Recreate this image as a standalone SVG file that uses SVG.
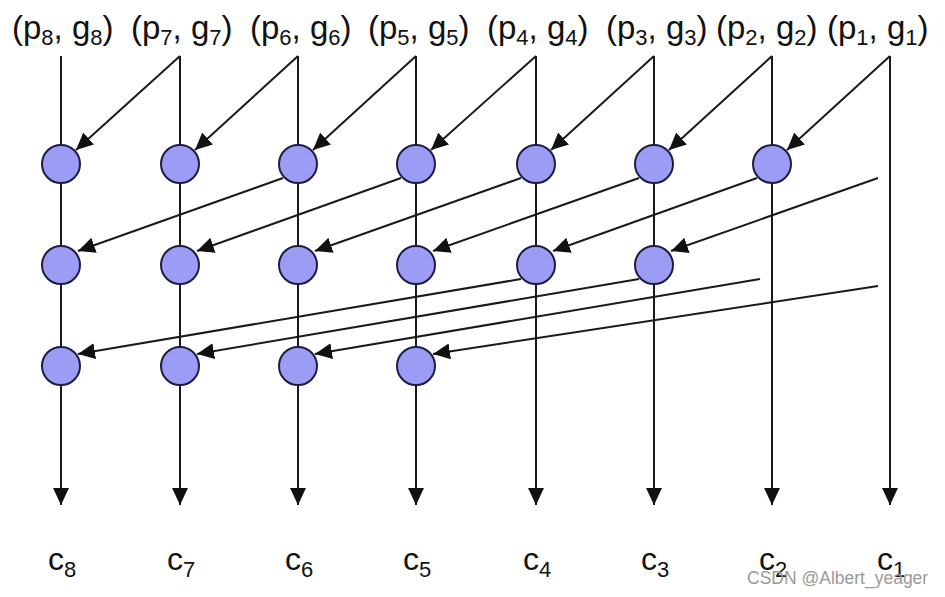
<svg xmlns="http://www.w3.org/2000/svg" width="945" height="597" viewBox="0 0 945 597">
<defs>
<marker id="ah" markerUnits="userSpaceOnUse" markerWidth="18" markerHeight="16" refX="17" refY="8" orient="auto">
<path d="M0,0 L17,8 L0,16 z" fill="#111"/>
</marker>
<style>
.ln{stroke:#1a1a1a;stroke-width:2;fill:none}
.ar{marker-end:url(#ah)}
.nd{fill:#9c9cf4;stroke:#1c1c44;stroke-width:2}
.lb{font-family:"Liberation Sans",Arial,sans-serif;font-size:33px;fill:#111}
.ob{font-size:32px}
.sb{font-size:22px}
.wm{font-family:"Liberation Sans",Arial,sans-serif;font-size:17.5px;fill:#9a9a9a}
</style>
</defs>
<rect width="945" height="597" fill="#fff"/>
<g id="connectors">
<line class="ln ar" x1="61" y1="56" x2="61" y2="505"/>
<line class="ln ar" x1="180" y1="56" x2="180" y2="505"/>
<line class="ln ar" x1="298" y1="56" x2="298" y2="505"/>
<line class="ln ar" x1="416" y1="56" x2="416" y2="505"/>
<line class="ln ar" x1="536" y1="56" x2="536" y2="505"/>
<line class="ln ar" x1="654" y1="56" x2="654" y2="505"/>
<line class="ln ar" x1="772" y1="56" x2="772" y2="505"/>
<line class="ln ar" x1="890" y1="56" x2="890" y2="505"/>
<line class="ln ar" x1="180" y1="56" x2="76" y2="150"/>
<line class="ln ar" x1="298" y1="56" x2="195" y2="150"/>
<line class="ln ar" x1="416" y1="56" x2="313" y2="150"/>
<line class="ln ar" x1="536" y1="56" x2="431" y2="150"/>
<line class="ln ar" x1="654" y1="56" x2="551" y2="150"/>
<line class="ln ar" x1="772" y1="56" x2="669" y2="150"/>
<line class="ln ar" x1="890" y1="56" x2="787" y2="150"/>
<line class="ln ar" x1="283" y1="178" x2="78" y2="251"/>
<line class="ln ar" x1="401" y1="178" x2="197" y2="251"/>
<line class="ln ar" x1="521" y1="178" x2="315" y2="251"/>
<line class="ln ar" x1="639" y1="178" x2="433" y2="251"/>
<line class="ln ar" x1="757" y1="178" x2="553" y2="251"/>
<line class="ln ar" x1="878" y1="178" x2="671" y2="251"/>
<line class="ln ar" x1="521" y1="279" x2="78" y2="354"/>
<line class="ln ar" x1="639" y1="279" x2="197" y2="354"/>
<line class="ln ar" x1="760" y1="279" x2="315" y2="354"/>
<line class="ln ar" x1="878" y1="286" x2="433" y2="354"/>
</g>
<g id="n1-8"><circle class="nd" cx="61" cy="164" r="19"/></g>
<g id="n1-7"><circle class="nd" cx="180" cy="164" r="19"/></g>
<g id="n1-6"><circle class="nd" cx="298" cy="164" r="19"/></g>
<g id="n1-5"><circle class="nd" cx="416" cy="164" r="19"/></g>
<g id="n1-4"><circle class="nd" cx="536" cy="164" r="19"/></g>
<g id="n1-3"><circle class="nd" cx="654" cy="164" r="19"/></g>
<g id="n1-2"><circle class="nd" cx="772" cy="164" r="19"/></g>
<g id="n2-8"><circle class="nd" cx="61" cy="265" r="19"/></g>
<g id="n2-7"><circle class="nd" cx="180" cy="265" r="19"/></g>
<g id="n2-6"><circle class="nd" cx="298" cy="265" r="19"/></g>
<g id="n2-5"><circle class="nd" cx="416" cy="265" r="19"/></g>
<g id="n2-4"><circle class="nd" cx="536" cy="265" r="19"/></g>
<g id="n2-3"><circle class="nd" cx="654" cy="265" r="19"/></g>
<g id="n3-8"><circle class="nd" cx="61" cy="366" r="19"/></g>
<g id="n3-7"><circle class="nd" cx="180" cy="366" r="19"/></g>
<g id="n3-6"><circle class="nd" cx="298" cy="366" r="19"/></g>
<g id="n3-5"><circle class="nd" cx="416" cy="366" r="19"/></g>
<g id="inputs">
<text class="lb" x="12" y="39">(p<tspan class="sb" dy="6">8</tspan><tspan dy="-6">, g</tspan><tspan class="sb" dy="6">8</tspan><tspan dy="-6">)</tspan></text>
<text class="lb" x="131" y="39">(p<tspan class="sb" dy="6">7</tspan><tspan dy="-6">, g</tspan><tspan class="sb" dy="6">7</tspan><tspan dy="-6">)</tspan></text>
<text class="lb" x="250" y="39">(p<tspan class="sb" dy="6">6</tspan><tspan dy="-6">, g</tspan><tspan class="sb" dy="6">6</tspan><tspan dy="-6">)</tspan></text>
<text class="lb" x="368" y="39">(p<tspan class="sb" dy="6">5</tspan><tspan dy="-6">, g</tspan><tspan class="sb" dy="6">5</tspan><tspan dy="-6">)</tspan></text>
<text class="lb" x="487" y="39">(p<tspan class="sb" dy="6">4</tspan><tspan dy="-6">, g</tspan><tspan class="sb" dy="6">4</tspan><tspan dy="-6">)</tspan></text>
<text class="lb" x="606" y="39">(p<tspan class="sb" dy="6">3</tspan><tspan dy="-6">, g</tspan><tspan class="sb" dy="6">3</tspan><tspan dy="-6">)</tspan></text>
<text class="lb" x="716" y="39">(p<tspan class="sb" dy="6">2</tspan><tspan dy="-6">, g</tspan><tspan class="sb" dy="6">2</tspan><tspan dy="-6">)</tspan></text>
<text class="lb" x="827" y="39">(p<tspan class="sb" dy="6">1</tspan><tspan dy="-6">, g</tspan><tspan class="sb" dy="6">1</tspan><tspan dy="-6">)</tspan></text>
</g>
<g id="outputs">
<text class="lb ob" x="48" y="570">c<tspan class="sb" dy="7">8</tspan></text>
<text class="lb ob" x="167" y="570">c<tspan class="sb" dy="7">7</tspan></text>
<text class="lb ob" x="285" y="570">c<tspan class="sb" dy="7">6</tspan></text>
<text class="lb ob" x="403" y="570">c<tspan class="sb" dy="7">5</tspan></text>
<text class="lb ob" x="523" y="570">c<tspan class="sb" dy="7">4</tspan></text>
<text class="lb ob" x="641" y="570">c<tspan class="sb" dy="7">3</tspan></text>
<text class="lb ob" x="759" y="570">c<tspan class="sb" dy="7">2</tspan></text>
<text class="lb ob" x="877" y="570">c<tspan class="sb" dy="7">1</tspan></text>
</g>
<text class="wm" x="747" y="584">CSDN @Albert_yeager</text>
</svg>
